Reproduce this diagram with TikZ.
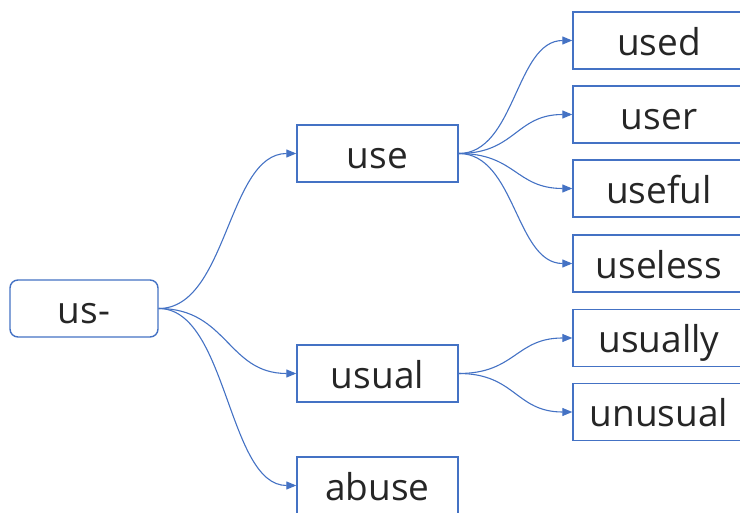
\documentclass[tikz,border=0pt]{standalone}
\usepackage{fontspec}
\setmainfont{Open Sans}
\usetikzlibrary{arrows.meta,calc}
\definecolor{mblue}{HTML}{4472C4}
\tikzset{
  wbox/.style={draw=mblue, line width=1.4pt, fill=white, inner sep=0pt,
    minimum height=57pt, text height=30pt, text depth=0pt,
    font=\fontsize{37}{40}\selectfont, text=black!85},
  midbox/.style={wbox, minimum width=161pt},
  leafbox/.style={wbox, minimum width=172pt},
  rootbox/.style={wbox, minimum width=148pt, rounded corners=8pt},
  conn/.style={draw=mblue, line width=1.1pt, -{Triangle[length=10pt,width=8pt]},
    to path={let \p1=(\tikztostart), \p2=(\tikztotarget) in
      .. controls ({(\x1+\x2)/2},\y1) and ({(\x1+\x2)/2},\y2) .. (\tikztotarget)}},
}
\begin{document}
\begin{tikzpicture}[x=1pt,y=-1pt]
\useasboundingbox (0,0) rectangle (740,513);
\begin{scope}
\clip (0,0) rectangle (740,513);
\node[rootbox] (us) at (84,308.5) {us-};
\node[midbox] (use) at (377.5,153.5) {use};
\node[midbox] (usual) at (377.5,373.5) {usual};
\node[midbox] (abuse) at (377.5,485.5) {abuse};
\node[leafbox] (used) at (659,40.5) {used};
\node[leafbox] (user) at (659,114.5) {user};
\node[leafbox] (useful) at (659,188.5) {useful};
\node[leafbox] (useless) at (659,263.5) {useless};
\node[leafbox] (usually) at (659,338) {usually};
\node[leafbox] (unusual) at (659,412) {unusual};
\end{scope}
\draw[conn] (us.east) to (use.west);
\draw[conn] (us.east) to (usual.west);
\draw[conn] (us.east) to (abuse.west);
\draw[conn] (use.east) to (used.west);
\draw[conn] (use.east) to (user.west);
\draw[conn] (use.east) to (useful.west);
\draw[conn] (use.east) to (useless.west);
\draw[conn] (usual.east) to (usually.west);
\draw[conn] (usual.east) to (unusual.west);
\end{tikzpicture}
\end{document}
